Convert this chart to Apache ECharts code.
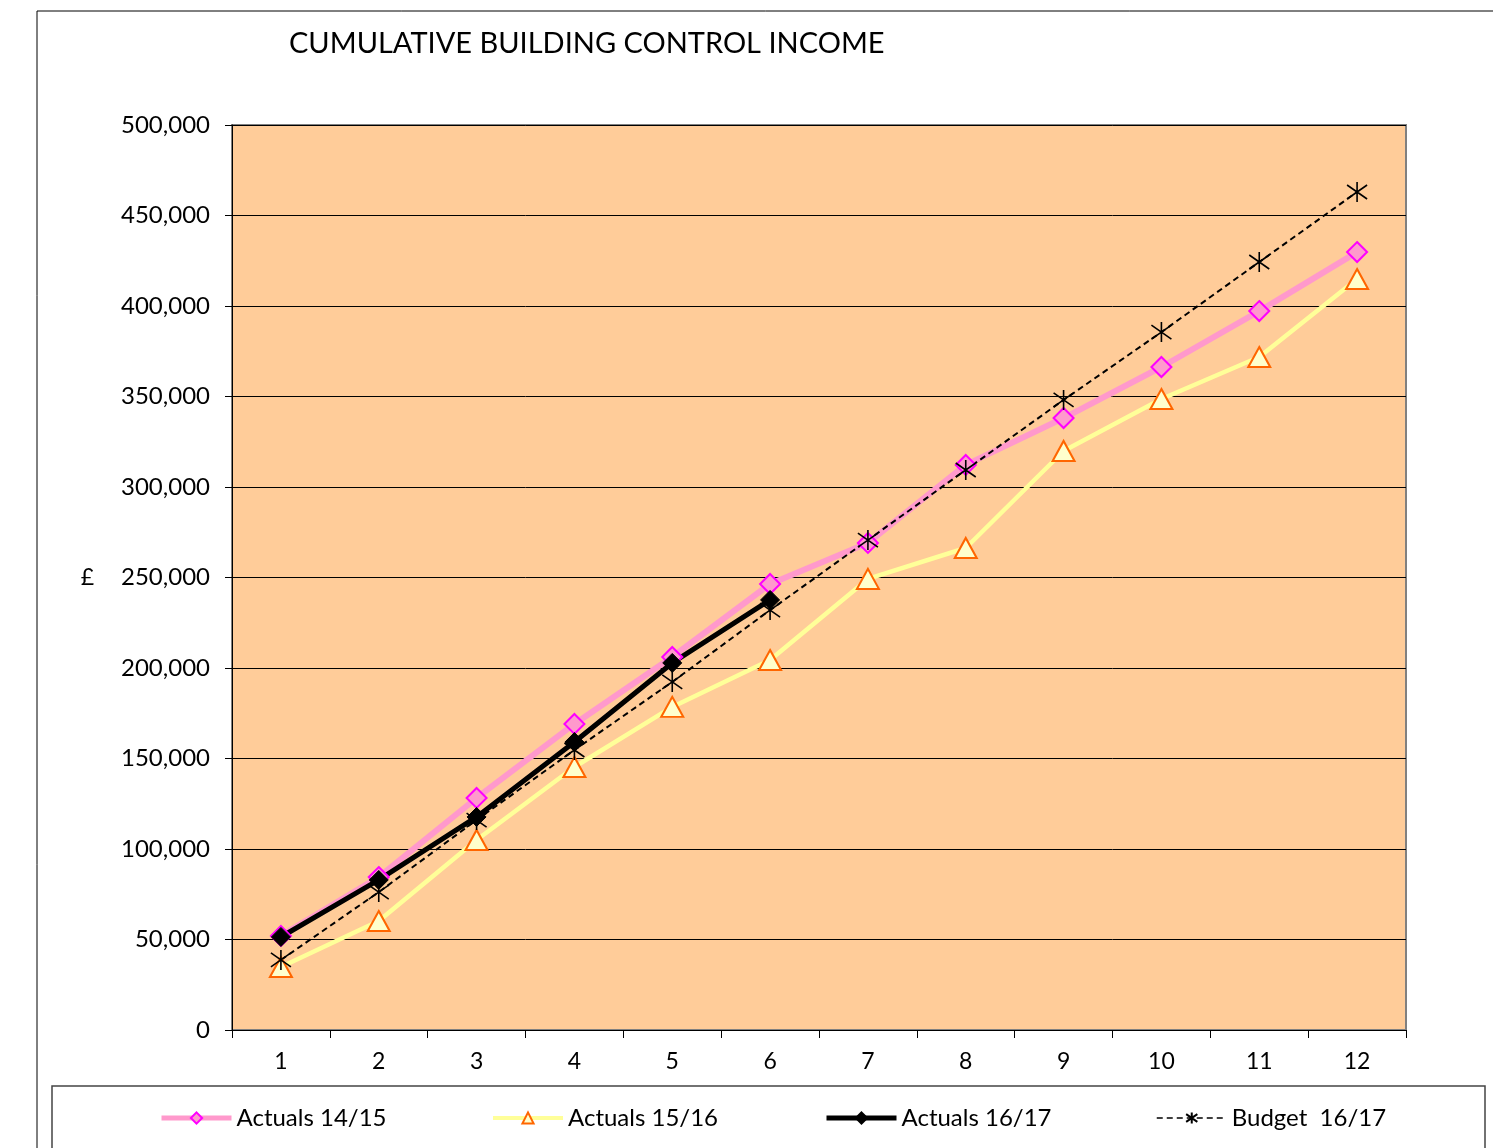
<!DOCTYPE html>
<html>
<head>
<meta charset="utf-8">
<script src="https://cdn.jsdelivr.net/npm/echarts@6/dist/echarts.min.js"></script>
<style>
html,body{margin:0;padding:0;background:#fff;}
#chart{width:1493px;height:1148px;}
</style>
</head>
<body>
<div id="chart"></div>
<script>
var months = ['1','2','3','4','5','6','7','8','9','10','11','12'];
var actuals1415 = [52000, 84500, 128200, 169100, 206100, 246400, 269100, 312200, 338100, 366300, 397200, 429800];
var actuals1516 = [34800, 60200, 105000, 145300, 178500, 204400, 249200, 266300, 319900, 348600, 371800, 414900];
var actuals1617 = [51400, 82900, 117700, 159100, 202800, 237600];
var budget1617 = [38700, 76200, 116000, 154700, 192300, 232000, 270700, 309400, 348100, 385600, 424300, 463000];
var yTicks = [0, 50000, 100000, 150000, 200000, 250000, 300000, 350000, 400000, 450000, 500000];

var starPath = 'path://M10,0 L10,20 M2,3 L18,17 M18,3 L2,17';
var FONT = 'Lato';

var chart = echarts.init(document.getElementById('chart'));
function legendAt(name, left, lw) {
  return {
    data: [name], left: left, top: 1106, padding: 0,
    itemWidth: 70, itemHeight: 14, itemGap: 0,
    lineStyle: {width: lw},
    textStyle: {fontFamily: FONT, fontSize: 24, color: '#000', padding: [0,0,0,0]}
  };
}
chart.setOption({
  backgroundColor: '#fff',
  animation: false,
  textStyle: {fontFamily: FONT},
  title: {
    text: 'CUMULATIVE BUILDING CONTROL INCOME',
    left: 284, top: 24,
    textStyle: {fontFamily: FONT, fontSize: 29, fontWeight: 'normal', color: '#000'}
  },
  graphic: [
    {type: 'rect', shape: {x: 37, y: 11, width: 1600, height: 1300}, style: {fill: 'none', stroke: '#000', lineWidth: 1}, silent: true},
    {type: 'rect', shape: {x: 52, y: 1086, width: 1433, height: 120}, style: {fill: 'none', stroke: '#444', lineWidth: 1.5}, silent: true}
  ],
  legend: [
    legendAt('Actuals 14/15', 159, 5),
    legendAt('Actuals 15/16', 491, 4),
    legendAt('Actuals 16/17', 824, 5),
    legendAt('Budget  16/17', 1156, 1.5)
  ],
  grid: {
    left: 232, right: 87, top: 125, bottom: 118,
    show: true, backgroundColor: '#FFCC99', borderColor: '#808080', borderWidth: 2
  },
  xAxis: {
    type: 'category', data: months, boundaryGap: true,
    axisLine: {show: true, lineStyle: {color: '#000', width: 1}},
    axisTick: {show: true, alignWithLabel: false, length: 8, lineStyle: {color: '#000'}},
    axisLabel: {fontFamily: FONT, fontSize: 23, color: '#000', margin: 20},
    splitLine: {show: false}
  },
  yAxis: {
    type: 'value', min: 0, max: 500000, interval: 50000,
    name: '£', nameLocation: 'middle', nameRotate: 0, nameGap: 138,
    nameTextStyle: {fontFamily: FONT, fontSize: 23, color: '#000'},
    axisLine: {show: true, lineStyle: {color: '#000', width: 1}},
    axisTick: {show: true, length: 7, lineStyle: {color: '#000'}},
    axisLabel: {
      fontFamily: FONT, fontSize: 24, color: '#000', margin: 22,
      formatter: function (v) { return yTicks.indexOf(v) >= 0 ? v.toLocaleString('en-GB') : ''; }
    },
    splitLine: {show: true, lineStyle: {color: '#000', width: 1}}
  },
  series: [
    {
      name: 'Actuals 14/15', type: 'line', data: actuals1415,
      lineStyle: {color: '#FF99CC', width: 6},
      symbol: 'diamond', symbolSize: 20,
      itemStyle: {color: '#FF99CC', borderColor: '#FF00FF', borderWidth: 2}
    },
    {
      name: 'Actuals 15/16', type: 'line', data: actuals1516,
      lineStyle: {color: '#FFFF99', width: 4.5},
      symbol: 'triangle', symbolSize: [22, 20],
      itemStyle: {color: '#FFFFCC', borderColor: '#FF6600', borderWidth: 2}
    },
    {
      name: 'Budget  16/17', type: 'line', data: budget1617,
      lineStyle: {color: '#000', width: 2, type: [6, 4]},
      symbol: starPath, symbolSize: 20,
      itemStyle: {color: 'rgba(0,0,0,0)', borderColor: '#000', borderWidth: 1.6}
    },
    {
      name: 'Actuals 16/17', type: 'line', data: actuals1617,
      lineStyle: {color: '#000', width: 5},
      symbol: 'diamond', symbolSize: 19,
      itemStyle: {color: '#000', borderColor: '#000', borderWidth: 1}
    }
  ]
});
</script>
</body>
</html>
